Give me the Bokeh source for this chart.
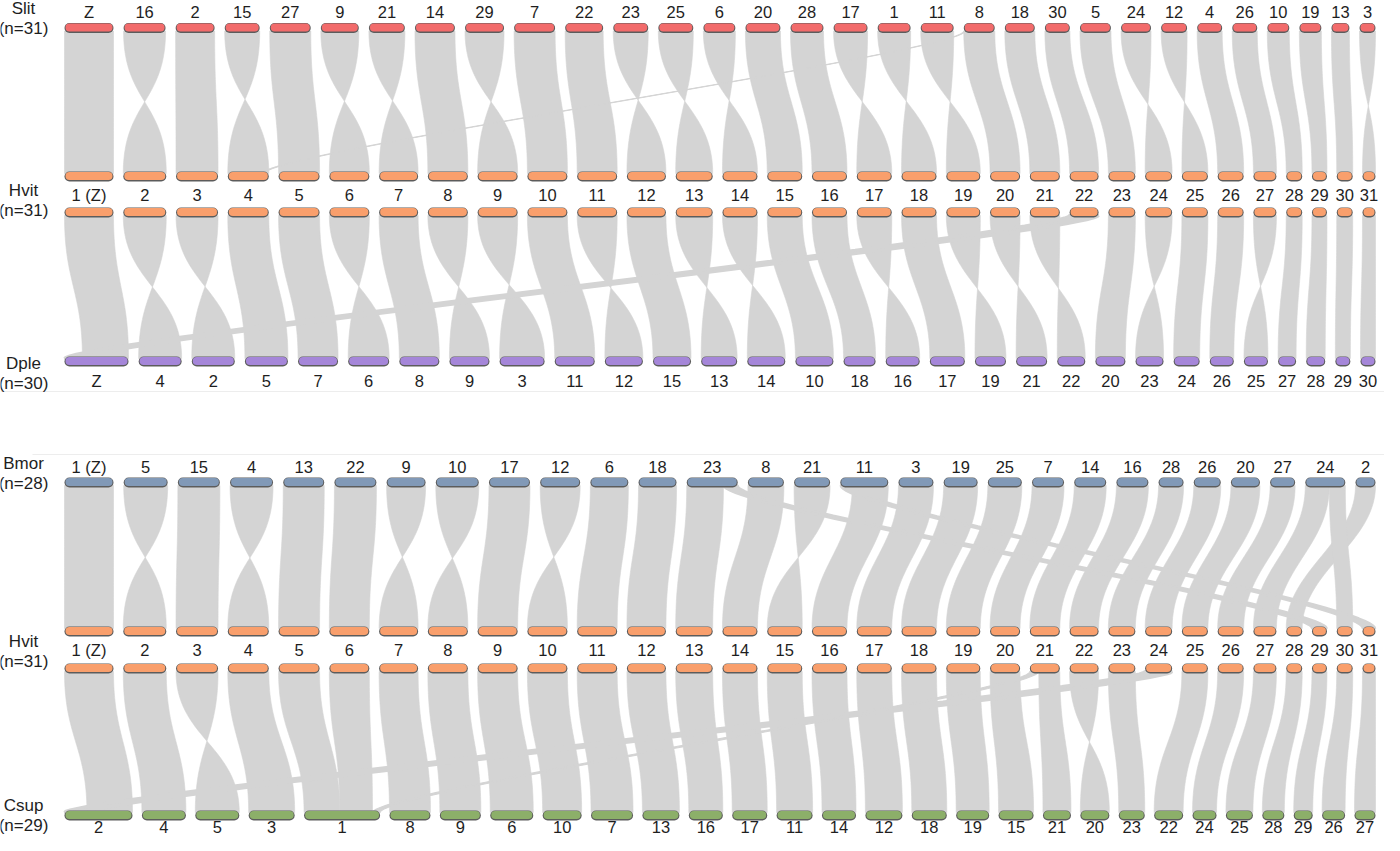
import numpy as np
from bokeh.plotting import figure
from bokeh.models import Range1d
from bokeh.core.properties import value
from bokeh.embed import file_html
from bokeh.resources import INLINE

# ---------------- data (chromosome order and relative lengths) ----------------
SLIT_CHR = ["Z", "16", "2", "15", "27", "9", "21", "14", "29", "7", "22", "23", "25", "6", "20", "28",
            "17", "1", "11", "8", "18", "30", "5", "24", "12", "4", "26", "10", "19", "13", "3"]
SLIT_LEN = [49, 42, 39, 35, 41, 38, 36, 40, 39, 41, 38, 35, 35, 32, 35, 33,
            34, 33, 33, 31, 30, 25, 31, 30, 26, 25, 25, 22, 22, 18, 16]

HVIT_CHR = ["1 (Z)", "2", "3", "4", "5", "6", "7", "8", "9", "10", "11", "12", "13", "14", "15", "16",
            "17", "18", "19", "20", "21", "22", "23", "24", "25", "26", "27", "28", "29", "30", "31"]
HVIT_LEN = [49, 43, 42, 41, 41, 40, 39, 40, 40, 40, 40, 39, 37, 35, 35, 35,
            35, 35, 34, 30, 30, 29, 27, 27, 26, 26, 23, 16, 15, 16, 13]

DPLE_CHR = ["Z", "4", "2", "5", "7", "6", "8", "9", "3", "11", "12", "15", "13", "14", "10",
            "18", "16", "17", "19", "21", "22", "20", "23", "24", "26", "25", "27", "28", "29", "30"]
DPLE_LEN = [64, 43, 43, 43, 40, 41, 40, 40, 45, 40, 38, 38, 36, 38, 38,
            32, 34, 35, 31, 31, 28, 30, 28, 26, 24, 24, 18, 19, 15, 15]

BMOR_CHR = ["1 (Z)", "5", "15", "4", "13", "22", "9", "10", "17", "12", "6", "18", "23", "8",
            "21", "11", "3", "19", "25", "7", "14", "16", "28", "26", "20", "27", "24", "2"]
BMOR_LEN = [49, 44, 42, 43, 41, 42, 39, 43, 41, 40, 38, 38, 51, 36,
            36, 48, 35, 34, 34, 32, 32, 32, 25, 27, 29, 25, 40, 20]

CSUP_CHR = ["2", "4", "5", "3", "1", "8", "9", "6", "10", "7", "13", "16", "17", "11", "14",
            "12", "18", "19", "15", "21", "20", "23", "22", "24", "25", "28", "29", "26", "27"]
CSUP_LEN = [68, 44, 44, 46, 76, 41, 41, 43, 39, 42, 37, 34, 35, 36, 34,
            37, 35, 33, 35, 28, 29, 26, 29, 24, 27, 22, 19, 23, 21]

SPECIES = ["Slit", "Hvit", "Dple", "Bmor", "Hvit", "Csup"]
HAPLOID_N = ["(n=31)", "(n=31)", "(n=30)", "(n=28)", "(n=31)", "(n=29)"]

# ---------------- synteny (which chromosome maps to which, inverted or not) ----------------
# panel A: Slit (top) -> Hvit (bottom), one-to-one in order
SLIT_HVIT_INV = [0, 1, 0, 1, 0, 1, 1, 0, 1, 0, 0, 1, 1, 1, 0, 0,
                 1, 1, 1, 0, 0, 0, 0, 1, 1, 0, 0, 0, 0, 0, 1]
SLIT_HVIT_EXTRA = [("8", 0.0, 0.05, "4", 0.84, 0.90)]

# panel B: Hvit (top) -> Dple (bottom)
HVIT_TO_DPLE = ["Z", "4", "2", "5", "7", "6", "8", "9", "3", "11", "12", "15", "13", "14", "10", "18",
                "16", "17", "19", "21", "22", "Z", "20", "23", "24", "26", "25", "27", "28", "29", "30"]
HVIT_DPLE_INV = [0, 1, 1, 0, 0, 1, 0, 1, 1, 0, 1, 0, 1, 1, 0, 0,
                 1, 0, 1, 1, 1, 0, 0, 1, 0, 0, 1, 0, 0, 0, 0]
HVIT_DPLE_SPLIT = {("1 (Z)", "Z"): (0, 1, 0.28, 1), ("22", "Z"): (0, 1, 0, 0.28)}

# panel C: Bmor (top) -> Hvit (bottom)
BMOR_TO_HVIT = ["1 (Z)", "2", "3", "4", "5", "6", "7", "8", "9", "10", "11", "12", "13", "14",
                "15", "16", "17", "18", "19", "20", "21", "22", "23", "24", "25", "26", "27", "28"]
BMOR_HVIT_INV = [0, 1, 0, 1, 0, 0, 1, 1, 0, 1, 0, 0, 0, 0,
                 1, 0, 0, 0, 0, 0, 0, 0, 0, 0, 0, 0, 0, 0]
BMOR_HVIT_SPLIT = {("23", "13"): (0, 0.72, 0, 1), ("11", "16"): (0.25, 1, 0, 1), ("24", "27"): (0, 0.6, 0, 1)}
BMOR_HVIT_EXTRA = [("23", 0.72, 1.0, "29", 0, 1), ("11", 0.0, 0.25, "31", 0, 1), ("24", 0.6, 1.0, "30", 0, 1)]

# panel D: Hvit (top) -> Csup (bottom)
HVIT_TO_CSUP = ["2", "4", "5", "3", "1", "1", "8", "9", "6", "10", "7", "13", "16", "17", "11", "14",
                "12", "18", "19", "15", "21", "20", "23", "2", "22", "24", "25", "28", "29", "26", "27"]
HVIT_CSUP_INV = [0, 0, 1, 0, 0, 0, 0, 0, 0, 0, 0, 0, 0, 0, 0, 0,
                 0, 0, 0, 0, 0, 1, 0, 0, 0, 0, 0, 0, 0, 0, 0]
HVIT_CSUP_SPLIT = {("1 (Z)", "2"): (0, 1, 0.33, 1), ("24", "2"): (0, 1, 0, 0.33),
                   ("5", "1"): (0, 1, 0, 0.47), ("6", "1"): (0, 1, 0.47, 0.9),
                   ("21", "21"): (0.3, 1, 0, 1)}
HVIT_CSUP_EXTRA = [("21", 0.0, 0.3, "1", 0.9, 1.0)]

# ---------------- layout / style ----------------
X0, X1 = 72, 1383
ROW_Y = dict(slit=35.5, hvitA=184, hvitB=220, dple=369, bmor=490, hvitC=639, hvitD=676, csup=823)
COL = dict(slit="#F26B6B", hvit="#F99F6C", dple="#A586D9", bmor="#8199B7", csup="#8CAF69")
RIBBON = "#D4D4D4"
FONT = value("Liberation Sans")


def layout(lengths):
    L = np.asarray(lengths, float)
    gap = ((X1 - X0) - L.sum()) / (len(L) - 1)
    starts = X0 + np.concatenate([[0.0], np.cumsum(L[:-1] + gap)])
    return starts, starts + L


def bez(xa, ya, xb, yb, k, n=48):
    t = np.linspace(0, 1, n)
    a, b, c, d = (1 - t) ** 3, 3 * (1 - t) ** 2 * t, 3 * (1 - t) * t ** 2, t ** 3
    x = a * xa + b * xa + c * xb + d * xb
    y = a * ya + b * (ya + k) + c * (yb - k) + d * yb
    return x, y


p = figure(width=1384, height=835, x_range=Range1d(8, 1392), y_range=Range1d(843, 8),
           output_backend="svg", toolbar_location=None, min_border=0)
p.axis.visible = False
p.grid.visible = False
p.outline_line_color = None
p.background_fill_color = "white"

# faint panel borders
p.segment(x0=[8, 40], y0=[399, 462], x1=[1392, 1392], y1=[399, 462], line_color="#ededed", line_width=1)

ribbon_xs, ribbon_ys = [], []
band_xs, band_ys, band_w = [], [], []


def add_panel(top_chr, top_len, y_top, bot_chr, bot_len, y_bot, links):
    ts, te = layout(top_len)
    bs, be = layout(bot_len)
    ti = {c: i for i, c in enumerate(top_chr)}
    bi = {c: i for i, c in enumerate(bot_chr)}
    ya, yb = y_top + 3, y_bot - 3
    H = yb - ya
    for (tc, t0, t1, bc, b0, b1, inv) in links:
        i, j = ti[tc], bi[bc]
        a0 = ts[i] + t0 * (te[i] - ts[i])
        a1 = ts[i] + t1 * (te[i] - ts[i])
        c0 = bs[j] + b0 * (be[j] - bs[j])
        c1 = bs[j] + b1 * (be[j] - bs[j])
        dx = abs((a0 + a1) / 2 - (c0 + c1) / 2)
        k = H * 0.5 / (1 + dx / 300.0)
        left_end, right_end = (c1, c0) if inv else (c0, c1)
        lx, ly = bez(a0, ya, left_end, yb, k)
        rx, ry = bez(a1, ya, right_end, yb, k)
        xs = list(lx) + list(rx[::-1])
        ys = list(ly) + list(ry[::-1])
        if dx > 200:
            band_xs.append(xs)
            band_ys.append(ys)
            band_w.append(float(np.clip(0.13 * ((a1 - a0) + (c1 - c0)) / 2, 1.0, 3.5)))
        else:
            ribbon_xs.append(xs)
            ribbon_ys.append(ys)


def one_to_one(tops, bots, inv, split=None):
    split = split or {}
    out = []
    for t, b, f in zip(tops, bots, inv):
        t0, t1, b0, b1 = split.get((t, b), (0, 1, 0, 1))
        out.append((t, t0, t1, b, b0, b1, f))
    return out


links_A = one_to_one(SLIT_CHR, HVIT_CHR, SLIT_HVIT_INV) + [e + (0,) for e in SLIT_HVIT_EXTRA]
links_B = one_to_one(HVIT_CHR, HVIT_TO_DPLE, HVIT_DPLE_INV, HVIT_DPLE_SPLIT)
links_C = one_to_one(BMOR_CHR, BMOR_TO_HVIT, BMOR_HVIT_INV, BMOR_HVIT_SPLIT) + [e + (0,) for e in BMOR_HVIT_EXTRA]
links_D = one_to_one(HVIT_CHR, HVIT_TO_CSUP, HVIT_CSUP_INV, HVIT_CSUP_SPLIT) + [e + (0,) for e in HVIT_CSUP_EXTRA]

add_panel(SLIT_CHR, SLIT_LEN, ROW_Y["slit"], HVIT_CHR, HVIT_LEN, ROW_Y["hvitA"], links_A)
add_panel(HVIT_CHR, HVIT_LEN, ROW_Y["hvitB"], DPLE_CHR, DPLE_LEN, ROW_Y["dple"], links_B)
add_panel(BMOR_CHR, BMOR_LEN, ROW_Y["bmor"], HVIT_CHR, HVIT_LEN, ROW_Y["hvitC"], links_C)
add_panel(HVIT_CHR, HVIT_LEN, ROW_Y["hvitD"], CSUP_CHR, CSUP_LEN, ROW_Y["csup"], links_D)

p.patches(ribbon_xs, ribbon_ys, fill_color=RIBBON, line_color=RIBBON, line_width=0.6)
p.patches(band_xs, band_ys, fill_color=RIBBON, line_color=RIBBON, line_width=band_w)


def draw_row(chrs, lengths, y, color, label_y):
    s, e = layout(lengths)
    r = 5.0
    p.segment(x0=s + r, y0=[y] * len(s), x1=e - r, y1=[y] * len(s),
              line_color="#5c5c5c", line_width=10, line_cap="round")
    p.segment(x0=s + r, y0=[y - 0.4] * len(s), x1=e - r, y1=[y - 0.4] * len(s),
              line_color=color, line_width=8, line_cap="round")
    if label_y is not None:
        p.text(x=(s + e) / 2, y=[label_y] * len(s), text=chrs, text_font=FONT,
               text_font_size="16.5px", text_align="center", text_baseline="middle",
               text_color="#1e1e1e")


draw_row(SLIT_CHR, SLIT_LEN, ROW_Y["slit"], COL["slit"], 19)
draw_row(HVIT_CHR, HVIT_LEN, ROW_Y["hvitA"], COL["hvit"], 202)
draw_row(HVIT_CHR, HVIT_LEN, ROW_Y["hvitB"], COL["hvit"], None)
draw_row(DPLE_CHR, DPLE_LEN, ROW_Y["dple"], COL["dple"], 388)
draw_row(BMOR_CHR, BMOR_LEN, ROW_Y["bmor"], COL["bmor"], 474)
draw_row(HVIT_CHR, HVIT_LEN, ROW_Y["hvitC"], COL["hvit"], 657)
draw_row(HVIT_CHR, HVIT_LEN, ROW_Y["hvitD"], COL["hvit"], None)
draw_row(CSUP_CHR, CSUP_LEN, ROW_Y["csup"], COL["csup"], 834)

# species labels
SP_Y = [16, 198, 371, 471, 649, 813]
p.text(x=[31] * 6, y=SP_Y, text=SPECIES, text_font=FONT, text_font_size="17px",
       text_align="center", text_baseline="middle", text_color="#1e1e1e")
p.text(x=[31] * 6, y=[v + 20 for v in SP_Y], text=HAPLOID_N, text_font=FONT, text_font_size="17px",
       text_align="center", text_baseline="middle", text_color="#1e1e1e")

open("out.html", "w").write(file_html(p, INLINE))
